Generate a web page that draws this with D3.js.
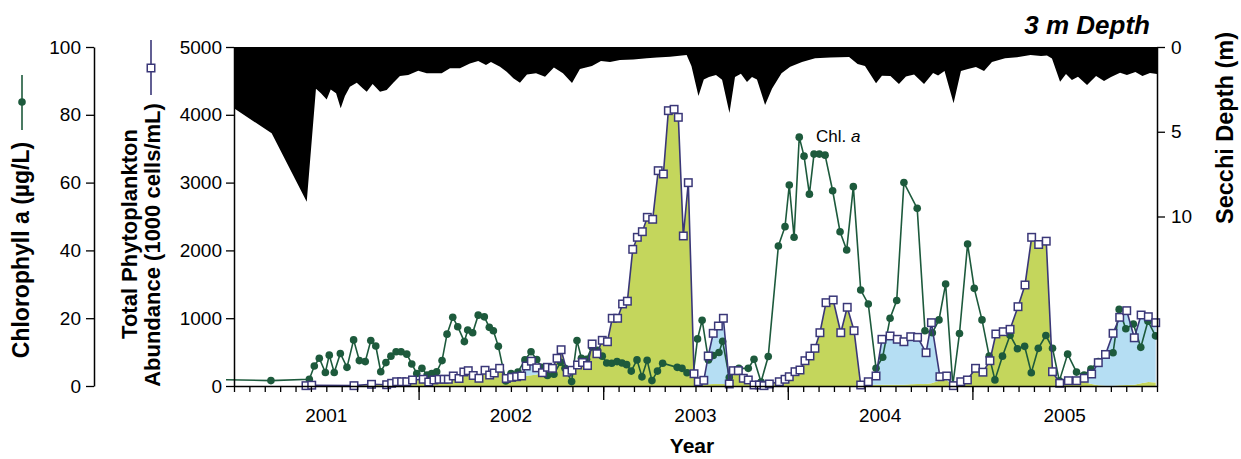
<!DOCTYPE html>
<html>
<head>
<meta charset="utf-8">
<script src="https://cdn.jsdelivr.net/npm/d3@7"></script>
<style>
  body { margin: 0; background: #fff; }
  text { font-family: "Liberation Sans", Arial, Helvetica, sans-serif; fill: #000; }
</style>
</head>
<body>
<svg id="chart" width="1241" height="459"></svg>
<script>
// ---- Sampling dates (decimal years) and measured values ----
const chlYear = [2000.816, 2001.200, 2001.408, 2001.435, 2001.462, 2001.495, 2001.516, 2001.543, 2001.576, 2001.612,
  2001.648, 2001.679, 2001.711, 2001.741, 2001.768, 2001.795, 2001.823, 2001.850, 2001.878, 2001.905,
  2001.936, 2001.963, 2001.990, 2002.018, 2002.046, 2002.071, 2002.098, 2002.127, 2002.154, 2002.185,
  2002.212, 2002.248, 2002.266, 2002.293, 2002.323, 2002.356, 2002.383, 2002.405, 2002.432, 2002.472,
  2002.501, 2002.538, 2002.576, 2002.609, 2002.640, 2002.666, 2002.698, 2002.733, 2002.769, 2002.793,
  2002.829, 2002.858, 2002.882, 2002.910, 2002.939, 2002.969, 2002.995, 2003.019, 2003.046, 2003.075,
  2003.102, 2003.127, 2003.152, 2003.183, 2003.210, 2003.238, 2003.264, 2003.294, 2003.322, 2003.401,
  2003.427, 2003.454, 2003.488, 2003.511, 2003.536, 2003.570, 2003.596, 2003.627, 2003.647, 2003.683,
  2003.735, 2003.786, 2003.817, 2003.855, 2003.894, 2003.949, 2003.985, 2004.008, 2004.034, 2004.062,
  2004.088, 2004.117, 2004.142, 2004.171, 2004.202, 2004.243, 2004.283, 2004.319, 2004.355, 2004.395,
  2004.436, 2004.478, 2004.514, 2004.554, 2004.590, 2004.629, 2004.701, 2004.743, 2004.783, 2004.819,
  2004.855, 2004.894, 2004.930, 2004.974, 2005.010, 2005.052, 2005.091, 2005.122, 2005.163, 2005.204,
  2005.244, 2005.283, 2005.319, 2005.357, 2005.398, 2005.434, 2005.471, 2005.516, 2005.564, 2005.605,
  2005.642, 2005.682, 2005.721, 2005.762, 2005.795, 2005.831, 2005.872, 2005.912, 2005.951, 2005.992];

// Chlorophyll a (ug/L)
const chlValue = [2.0, 1.6, 2.0, 5.9, 8.2, 4.0, 9.1, 4.0, 9.6, 5.5,
  13.6, 7.5, 7.2, 13.4, 11.8, 4.2, 6.9, 8.8, 10.1, 10.1,
  9.4, 6.5, 3.7, 5.2, 3.2, 3.7, 4.2, 7.5, 15.3, 20.3,
  17.5, 13.1, 16.5, 15.7, 20.9, 20.4, 17.3, 16.3, 11.7, 1.5,
  3.7, 4.1, 7.7, 10.1, 7.8, 5.5, 3.1, 3.5, 7.0, 5.2,
  1.3, 13.4, 8.2, 7.9, 11.5, 10.5, 8.8, 6.8, 6.7, 7.2,
  6.8, 6.3, 4.4, 7.7, 2.7, 7.6, 1.6, 4.4, 6.7, 5.5,
  5.2, 3.9, 3.7, 13.9, 19.4, 7.7, 9.0, 9.9, 13.2, 2.5,
  5.2, 5.2, 7.9, 1.2, 8.7, 41.3, 47.0, 59.3, 43.9, 73.4,
  67.8, 56.6, 68.4, 68.4, 68.1, 57.6, 45.5, 40.1, 58.8, 28.3,
  24.2, 5.2, 8.5, 20.0, 25.2, 60.0, 52.4, 16.3, 15.7, 19.5,
  30.1, 0.3, 15.5, 41.9, 28.8, 19.5, 8.8, 1.8, 8.8, 15.0,
  11.0, 11.7, 3.9, 11.1, 14.9, 11.1, 1.5, 9.4, 4.1, 3.2,
  5.0, 7.2, 9.1, 9.8, 22.6, 16.9, 18.3, 11.4, 19.1, 14.8];

const cellYear = [2001.390, 2001.421, 2001.650, 2001.745, 2001.827, 2001.854, 2001.881, 2001.908, 2001.936, 2001.967,
  2002.025, 2002.055, 2002.083, 2002.111, 2002.138, 2002.161, 2002.188, 2002.219, 2002.245, 2002.269,
  2002.296, 2002.327, 2002.360, 2002.385, 2002.410, 2002.439, 2002.475, 2002.504, 2002.531, 2002.558,
  2002.583, 2002.611, 2002.640, 2002.671, 2002.698, 2002.725, 2002.750, 2002.772, 2002.805, 2002.831,
  2002.861, 2002.888, 2002.915, 2002.940, 2002.966, 2002.995, 2003.023, 2003.049, 2003.078, 2003.105,
  2003.131, 2003.160, 2003.185, 2003.212, 2003.239, 2003.268, 2003.298, 2003.326, 2003.353, 2003.384,
  2003.407, 2003.434, 2003.461, 2003.492, 2003.515, 2003.545, 2003.569, 2003.596, 2003.624, 2003.651,
  2003.683, 2003.705, 2003.732, 2003.759, 2003.786, 2003.817, 2003.846, 2003.871, 2003.900, 2003.954,
  2003.985, 2004.008, 2004.039, 2004.066, 2004.093, 2004.120, 2004.147, 2004.174, 2004.207, 2004.246,
  2004.287, 2004.322, 2004.359, 2004.395, 2004.436, 2004.478, 2004.510, 2004.554, 2004.593, 2004.629,
  2004.666, 2004.703, 2004.749, 2004.778, 2004.824, 2004.861, 2004.897, 2004.937, 2004.973, 2005.017,
  2005.057, 2005.095, 2005.127, 2005.167, 2005.204, 2005.247, 2005.285, 2005.321, 2005.359, 2005.400,
  2005.434, 2005.473, 2005.520, 2005.565, 2005.606, 2005.646, 2005.682, 2005.721, 2005.762, 2005.798,
  2005.836, 2005.877, 2005.914, 2005.953, 2005.993];

// Total phytoplankton abundance (1000 cells/mL)
const cellTotal = [5, 12, 5, 25, 19, 40, 63, 63, 63, 89,
  99, 59, 89, 99, 99, 99, 148, 111, 207, 226,
  155, 114, 232, 162, 192, 261, 111, 128, 137, 148,
  295, 366, 268, 196, 276, 261, 409, 535, 204, 232,
  310, 347, 302, 620, 476, 674, 653, 999, 999, 1210,
  1251, 2016, 2193, 2276, 2488, 2459, 3176, 3127, 4061, 4081,
  3963, 2213, 2999, 181, 63, 84, 443, 777, 885, 999,
  30, 226, 226, 114, 89, 15, 15, 5, 30, 63,
  99, 137, 211, 236, 373, 443, 556, 786, 1229, 1269,
  786, 1161, 816, 15, 63, 148, 689, 738, 689, 653,
  727, 718, 491, 934, 137, 148, 5, 63, 89, 261,
  204, 373, 767, 801, 836, 1170, 1490, 2193, 2087, 2136,
  211, 40, 78, 78, 114, 177, 344, 465, 777, 1013,
  1111, 711, 1047, 1022, 934];

// Portion of the total in the green-shaded group; the remainder is shaded blue
const cellGreen = [5, 12, 5, 25, 19, 40, 63, 63, 63, 89,
  99, 59, 89, 99, 99, 99, 148, 111, 207, 226,
  155, 114, 232, 162, 192, 261, 111, 128, 137, 148,
  150, 160, 170, 196, 276, 261, 409, 535, 204, 232,
  310, 347, 302, 620, 476, 674, 653, 999, 999, 1210,
  1251, 2016, 2193, 2276, 2488, 2459, 3176, 3127, 4061, 4081,
  3963, 2213, 2999, 181, 20, 20, 25, 30, 30, 30,
  20, 226, 226, 100, 60, 10, 10, 5, 30, 63,
  99, 137, 211, 236, 373, 443, 556, 786, 1229, 1269,
  786, 1161, 816, 15, 15, 20, 20, 20, 20, 20,
  25, 30, 30, 40, 80, 90, 5, 63, 89, 261,
  204, 373, 767, 801, 836, 1170, 1490, 2193, 2087, 2136,
  211, 40, 78, 70, 60, 30, 10, 5, 5, 10,
  15, 20, 40, 60, 50];

const secchiYear = [2001.000, 2001.204, 2001.394, 2001.444, 2001.471, 2001.502, 2001.524, 2001.553, 2001.578, 2001.601,
  2001.628, 2001.665, 2001.697, 2001.719, 2001.751, 2001.791, 2001.827, 2001.863, 2001.899, 2001.944,
  2001.998, 2002.044, 2002.125, 2002.170, 2002.224, 2002.278, 2002.323, 2002.365, 2002.392, 2002.441,
  2002.477, 2002.513, 2002.549, 2002.587, 2002.636, 2002.685, 2002.733, 2002.782, 2002.831, 2002.874,
  2002.939, 2002.988, 2003.037, 2003.091, 2003.163, 2003.236, 2003.291, 2003.362, 2003.452, 2003.478,
  2003.516, 2003.545, 2003.573, 2003.611, 2003.644, 2003.684, 2003.714, 2003.746, 2003.779, 2003.806,
  2003.833, 2003.877, 2003.915, 2003.966, 2004.013, 2004.077, 2004.148, 2004.229, 2004.332, 2004.378,
  2004.418, 2004.478, 2004.510, 2004.556, 2004.602, 2004.640, 2004.684, 2004.738, 2004.787, 2004.814,
  2004.849, 2004.898, 2004.938, 2004.976, 2005.019, 2005.063, 2005.106, 2005.177, 2005.242, 2005.315,
  2005.372, 2005.404, 2005.431, 2005.475, 2005.507, 2005.539, 2005.572, 2005.621, 2005.670, 2005.713,
  2005.751, 2005.800, 2005.837, 2005.883, 2005.921, 2005.962, 2006.000];

// Secchi depth (m)
const secchiDepth = [3.62, 5.09, 9.13, 2.47, 2.73, 3.09, 2.50, 2.73, 3.62, 2.89,
  2.34, 2.11, 2.44, 2.64, 2.18, 2.64, 2.54, 2.11, 1.71, 1.65,
  1.40, 1.55, 1.55, 1.26, 1.26, 0.97, 0.83, 1.06, 0.88, 1.16,
  1.46, 1.85, 2.11, 1.62, 1.55, 1.75, 1.21, 1.55, 2.12, 1.30,
  1.12, 0.83, 0.88, 0.77, 0.74, 0.67, 0.62, 0.57, 0.47, 1.12,
  2.89, 1.92, 1.77, 1.65, 1.93, 3.89, 1.77, 1.58, 2.06, 1.77,
  1.91, 3.42, 2.45, 1.55, 1.16, 0.88, 0.67, 0.62, 0.59, 1.00,
  1.12, 2.14, 1.70, 1.71, 2.18, 1.74, 1.62, 2.18, 1.53, 1.68,
  1.42, 3.32, 1.42, 1.30, 1.18, 1.42, 0.88, 0.67, 0.61, 0.47,
  0.53, 0.50, 0.68, 2.05, 1.59, 1.95, 1.75, 2.24, 1.71, 2.01,
  1.77, 1.52, 1.65, 1.47, 1.71, 1.53, 1.59];

// Axis ticks and labels
const chlTicks = [0, 20, 40, 60, 80, 100];
const cellTicks = [0, 1000, 2000, 3000, 4000, 5000];
const secchiTicks = [0, 5, 10];
const yearLabels = [2001, 2002, 2003, 2004, 2005];

// ---- Layout ----
const svg = d3.select("#chart");
const plot = { left: 234, right: 1157, top: 47, bottom: 386 };

const x = d3.scaleLinear().domain([2001, 2006]).range([plot.left, plot.right]);
const yChl = d3.scaleLinear().domain([0, 100]).range([plot.bottom, plot.top]);
const yCell = d3.scaleLinear().domain([0, 5000]).range([plot.bottom, plot.top]);
const ySecchi = d3.scaleLinear().domain([0, 20]).range([plot.top, plot.bottom]);

const COL = {
  chl: "#1d5a3c",
  cell: "#3a3778",
  green: "#c4d65c",
  blue: "#b5def3"
};

const defs = svg.append("defs");
defs.append("clipPath").attr("id", "plotClip")
  .append("rect").attr("x", plot.left).attr("y", plot.top)
  .attr("width", plot.right - plot.left).attr("height", plot.bottom - plot.top + 10);
defs.append("clipPath").attr("id", "chlClip")
  .append("rect").attr("x", plot.left - 8).attr("y", plot.top)
  .attr("width", plot.right - plot.left + 8).attr("height", plot.bottom - plot.top + 10);

const cells = cellYear.map((t, i) => ({ t, total: cellTotal[i], green: cellGreen[i] }));
const chl = chlYear.map((t, i) => ({ t, v: chlValue[i] }));
const secchi = secchiYear.map((t, i) => ({ t, d: secchiDepth[i] }));

// ---- Stacked abundance fills ----
const gFill = svg.append("g").attr("clip-path", "url(#plotClip)");
gFill.append("path").datum(cells)
  .attr("fill", COL.green)
  .attr("d", d3.area().x(d => x(d.t)).y0(yCell(0)).y1(d => yCell(d.green)));
gFill.append("path").datum(cells)
  .attr("fill", COL.blue)
  .attr("d", d3.area().x(d => x(d.t)).y0(d => yCell(d.green)).y1(d => yCell(d.total)));

// ---- Secchi depth, filled down from the surface ----
gFill.append("path").datum(secchi)
  .attr("fill", "#000")
  .attr("d", d3.area().x(d => x(d.t)).y0(ySecchi(0)).y1(d => ySecchi(d.d)));

// ---- Chlorophyll a line and dots ----
const gChl = svg.append("g").attr("clip-path", "url(#chlClip)");
gChl.append("path").datum(chl)
  .attr("fill", "none").attr("stroke", COL.chl).attr("stroke-width", 1.6)
  .attr("d", d3.line().x(d => x(d.t)).y(d => yChl(d.v)));
gChl.selectAll("circle").data(chl.filter(d => d.t >= 2001)).join("circle")
  .attr("cx", d => x(d.t)).attr("cy", d => yChl(d.v)).attr("r", 3.8)
  .attr("fill", COL.chl);

// ---- Total abundance line and square markers ----
const gCell = svg.append("g");
gCell.append("path").datum(cells)
  .attr("fill", "none").attr("stroke", COL.cell).attr("stroke-width", 1.6)
  .attr("d", d3.line().x(d => x(d.t)).y(d => yCell(d.total)));
const sq = 7.5;
gCell.selectAll("rect").data(cells).join("rect")
  .attr("x", d => x(d.t) - sq / 2).attr("y", d => yCell(d.total) - sq / 2)
  .attr("width", sq).attr("height", sq)
  .attr("fill", "#fff").attr("stroke", COL.cell).attr("stroke-width", 1.5);

// ---- Axes ----
const tickFont = 19;
const fmt = d3.format("d");
function styleAxis(g) {
  g.selectAll("path.domain").attr("stroke", "#000").attr("stroke-width", 1.5);
  g.selectAll(".tick line").attr("stroke", "#000").attr("stroke-width", 1.3);
  g.selectAll(".tick text").style("font-size", tickFont + "px")
    .style("font-family", '"Liberation Sans", Arial, sans-serif').attr("fill", "#000");
}

// Phytoplankton axis along the plot's left edge
svg.append("g").attr("transform", `translate(${plot.left},0)`)
  .call(d3.axisLeft(yCell).tickValues(cellTicks).tickFormat(fmt).tickSize(8).tickSizeOuter(0).tickPadding(4))
  .call(styleAxis);

// Chlorophyll axis, offset to the left
svg.append("g").attr("transform", "translate(94,0)")
  .call(d3.axisLeft(yChl).tickValues(chlTicks).tickFormat(fmt).tickSize(8).tickSizeOuter(0).tickPadding(5))
  .call(styleAxis);

// Secchi axis on the right
svg.append("g").attr("transform", `translate(${plot.right},0)`)
  .call(d3.axisRight(ySecchi).tickValues(secchiTicks).tickFormat(fmt).tickSize(8).tickSizeOuter(0).tickPadding(6))
  .call(styleAxis);

// Time axis: monthly minor ticks, yearly major ticks, year labels centred in each year
const months = d3.range(0, 61).map(i => 2001 + i / 12);
svg.append("g").attr("transform", `translate(0,${plot.bottom})`)
  .call(d3.axisBottom(x).tickValues(months).tickSize(6).tickSizeOuter(0).tickFormat(""))
  .call(styleAxis);
svg.append("g").attr("transform", `translate(0,${plot.bottom})`)
  .call(d3.axisBottom(x).tickValues(yearLabels.slice(1)).tickSize(14).tickSizeOuter(0).tickFormat(""))
  .call(g => g.select("path.domain").remove())
  .call(styleAxis);
svg.append("g").selectAll("text").data(yearLabels).join("text")
  .attr("x", d => x(d + 0.5)).attr("y", 422)
  .attr("text-anchor", "middle").style("font-size", tickFont + "px")
  .text(d => d);

// ---- Titles ----
svg.append("text").attr("x", 692).attr("y", 453).attr("text-anchor", "middle")
  .style("font-size", "21px").style("font-weight", "bold").text("Year");

svg.append("text").attr("x", 1150).attr("y", 34).attr("text-anchor", "end")
  .style("font-size", "26px").style("font-weight", "bold").style("font-style", "italic")
  .text("3 m Depth");

svg.append("text").attr("transform", "translate(29,250) rotate(-90)")
  .attr("text-anchor", "middle").style("font-size", "23px").style("font-weight", "bold")
  .text("Chlorophyll a (µg/L)");

svg.append("text").attr("transform", "translate(137,234) rotate(-90)")
  .attr("text-anchor", "middle").style("font-size", "22px").style("font-weight", "bold")
  .text("Total Phytoplankton");
svg.append("text").attr("transform", "translate(160,245) rotate(-90)")
  .attr("text-anchor", "middle").style("font-size", "22px").style("font-weight", "bold")
  .text("Abundance (1000 cells/mL)");

svg.append("text").attr("transform", "translate(1233,128) rotate(-90)")
  .attr("text-anchor", "middle").style("font-size", "23.5px").style("font-weight", "bold")
  .text("Secchi Depth (m)");

// Series annotation
const ann = svg.append("text").attr("x", 816).attr("y", 142).style("font-size", "17px");
ann.append("tspan").text("Chl. ");
ann.append("tspan").style("font-style", "italic").text("a");

// ---- Series keys beside the axis titles ----
svg.append("line").attr("x1", 22).attr("x2", 22).attr("y1", 75).attr("y2", 130)
  .attr("stroke", COL.chl).attr("stroke-width", 1.6);
svg.append("circle").attr("cx", 22).attr("cy", 102).attr("r", 3.8).attr("fill", COL.chl);

svg.append("line").attr("x1", 151).attr("x2", 151).attr("y1", 40).attr("y2", 95)
  .attr("stroke", COL.cell).attr("stroke-width", 1.6);
svg.append("rect").attr("x", 151 - sq / 2).attr("y", 68 - sq / 2).attr("width", sq).attr("height", sq)
  .attr("fill", "#fff").attr("stroke", COL.cell).attr("stroke-width", 1.5);
</script>
</body>
</html>
